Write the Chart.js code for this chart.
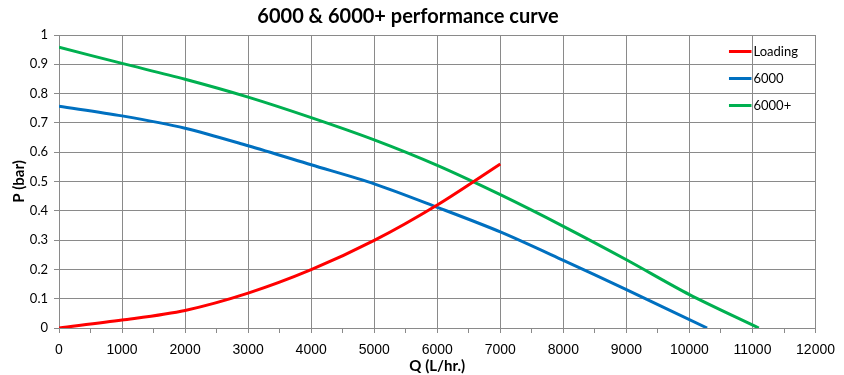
<!DOCTYPE html>
<html>
<head>
<meta charset="utf-8">
<script src="https://cdn.jsdelivr.net/npm/chart.js@4.4.0/dist/chart.umd.min.js"></script>
<style>
html,body{margin:0;padding:0;background:#fff;}
#wrap{width:844px;height:375px;}
</style>
</head>
<body>
<div id="wrap"><canvas id="c" width="844" height="375"></canvas></div>
<script>
const chartTitle = "6000 & 6000+ performance curve";
const xTitle = "Q (L/hr.)";
const yTitle = "P (bar)";
const seriesNames = ["Loading", "6000", "6000+"];

const qLoading = [0, 1000, 2000, 3000, 4000, 5000, 6000, 7000];
const pLoading = [0, 0.027, 0.06, 0.119, 0.199, 0.299, 0.42, 0.56];

const q6000 = [0, 1000, 2000, 3000, 4000, 5000, 6000, 7000, 8000, 9000, 10280];
const p6000 = [0.757, 0.724, 0.682, 0.622, 0.557, 0.492, 0.412, 0.328, 0.231, 0.131, 0];

const q6000p = [0, 1000, 2000, 3000, 4000, 5000, 6000, 7000, 8000, 9000, 10000, 11100];
const p6000p = [0.958, 0.903, 0.849, 0.788, 0.718, 0.642, 0.555, 0.455, 0.347, 0.233, 0.114, 0];

const xTickLabels = ["0","1000","2000","3000","4000","5000","6000","7000","8000","9000","10000","11000","12000"];
const yTickLabels = ["0","0.1","0.2","0.3","0.4","0.5","0.6","0.7","0.8","0.9","1"];

const colors = ["#FF0000", "#0070C0", "#00B050"];

function pts(xs, ys){ return xs.map((x,i)=>({x:x, y:ys[i]})); }

const legendPlugin = {
  id: 'insideLegend',
  afterDraw(chart){
    const ctx = chart.ctx;
    const xs = chart.scales.x;
    const x0 = xs.getPixelForValue(10500) + 8;
    const xText = xs.getPixelForValue(11000);
    const ys = [51.5, 78.5, 105.5];
    ctx.save();
    ctx.font = '13px Lato, "Open Sans", sans-serif';
    ctx.textBaseline = 'middle';
    ctx.textAlign = 'left';
    chart.data.datasets.forEach((ds, i) => {
      ctx.strokeStyle = ds.borderColor;
      ctx.lineWidth = 3;
      ctx.beginPath();
      ctx.moveTo(x0, ys[i]);
      ctx.lineTo(xText - 1, ys[i]);
      ctx.stroke();
      ctx.fillStyle = '#000';
      ctx.fillText(ds.label, xText + 1, ys[i]);
    });
    ctx.restore();
  }
};

new Chart(document.getElementById('c'), {
  type: 'scatter',
  data: {
    datasets: [
      {label: seriesNames[0], data: pts(qLoading, pLoading), borderColor: colors[0], backgroundColor: colors[0]},
      {label: seriesNames[1], data: pts(q6000, p6000), borderColor: colors[1], backgroundColor: colors[1]},
      {label: seriesNames[2], data: pts(q6000p, p6000p), borderColor: colors[2], backgroundColor: colors[2]}
    ].map(d => Object.assign(d, {showLine: true, borderWidth: 3, pointRadius: 0, pointHoverRadius: 0, tension: 0.3}))
  },
  options: {
    responsive: false,
    animation: false,
    layout: {padding: {left: 0, right: 28, top: 0, bottom: 0}},
    plugins: {
      legend: {display: false},
      tooltip: {enabled: false},
      title: {
        display: true,
        text: chartTitle,
        color: '#000',
        font: {family: 'Lato, "Open Sans", sans-serif', size: 20, weight: 'bold', lineHeight: 1.2},
        padding: {top: 5, bottom: 6}
      }
    },
    scales: {
      x: {
        type: 'linear',
        min: 0, max: 12000,
        afterBuildTicks(scale){
          const t = [];
          for (let v = 0; v <= 12000; v += 500) t.push({value: v});
          scale.ticks = t;
        },
        afterFit(scale){ scale.height = 47; },
        ticks: {
          autoSkip: false,
          maxRotation: 0,
          padding: 9,
          color: '#000',
          font: {family: '"Liberation Sans Narrow", "Arial Narrow", sans-serif', size: 14},
          callback(v){ return v % 1000 === 0 ? xTickLabels[v/1000] : ''; }
        },
        grid: {
          color: (c) => (c.tick && c.tick.value % 1000 === 0) ? '#8a8a8a' : 'rgba(0,0,0,0)',
          tickColor: '#8a8a8a',
          tickLength: 5,
          lineWidth: 1
        },
        border: {color: '#8a8a8a', width: 1},
        title: {
          display: true, text: xTitle, color: '#000',
          font: {family: 'Lato, "Open Sans", sans-serif', size: 15, weight: 'bold'},
          padding: {top: 0, bottom: 0}
        }
      },
      y: {
        type: 'linear',
        min: 0, max: 1,
        afterBuildTicks(scale){
          scale.ticks = yTickLabels.map((l, i) => ({value: i / 10}));
        },
        afterFit(scale){ scale.width = 59; },
        ticks: {
          padding: 6,
          color: '#000',
          font: {family: 'Lato, "Open Sans", sans-serif', size: 13},
          callback(v, i){ return yTickLabels[i]; }
        },
        grid: {color: '#8a8a8a', tickColor: '#8a8a8a', tickLength: 5, lineWidth: 1},
        border: {color: '#8a8a8a', width: 1},
        title: {
          display: true, text: yTitle, color: '#000',
          font: {family: 'Lato, "Open Sans", sans-serif', size: 15, weight: 'bold'},
          padding: {top: 10, bottom: 0}
        }
      }
    }
  },
  plugins: [legendPlugin]
});
</script>
</body>
</html>
